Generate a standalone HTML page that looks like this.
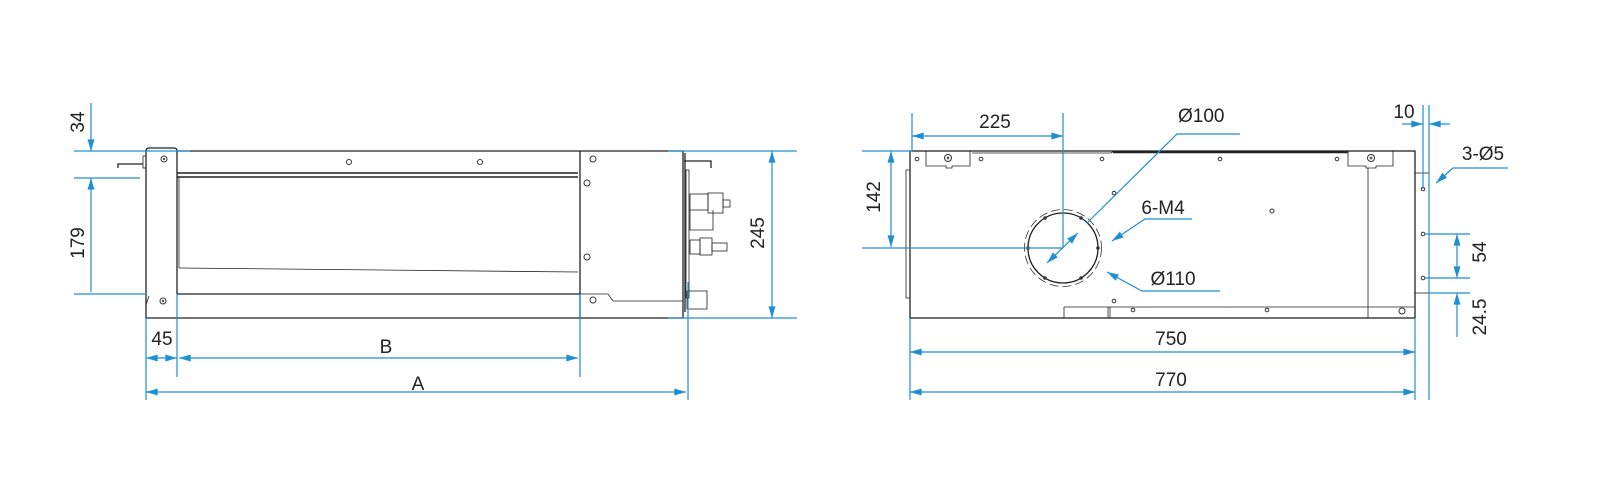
<!DOCTYPE html>
<html><head><meta charset="utf-8"><style>
html,body{margin:0;padding:0;background:#fff}
svg{display:block}
text{font-family:"Liberation Sans",sans-serif;font-size:19px;fill:#222}
.b{stroke:#1e8fd5;stroke-width:1.2;fill:none}
.k{stroke:#222;stroke-width:1.3;fill:none}
.t{stroke:#222;stroke-width:0.8;fill:none}
.ah{fill:#1e8fd5}
.s{fill:#fff;stroke:#333;stroke-width:1}
</style></head><body>
<svg width="1600" height="501" viewBox="0 0 1600 501">
<defs>
<marker id="a" viewBox="0 0 10 6" refX="10" refY="3" markerWidth="13" markerHeight="7" orient="auto-start-reverse" markerUnits="userSpaceOnUse"><path d="M0,0L10,3L0,6z" class="ah"/></marker>
</defs>

<!-- ============ LEFT VIEW ============ -->
<!-- end plate -->
<path class="k" d="M146,318V151Q146,148 149,148H174Q177,148 177,151V294"/>
<path class="k" d="M146,318H683V151H177"/>
<line class="k" x1="177" y1="294" x2="580" y2="294"/>
<path class="t" d="M146,305L149,296"/>
<!-- top band -->
<line x1="177" y1="173" x2="578" y2="173" stroke="#222" stroke-width="1.6"/>
<line x1="177" y1="177" x2="578" y2="177" stroke="#222" stroke-width="1.6"/>
<line class="t" x1="179" y1="177" x2="179" y2="268"/>
<path class="t" d="M179,268L578,272"/>
<!-- hook left -->
<path class="k" d="M118,168V164H143"/>
<rect x="143" y="156" width="3" height="12" class="t"/>
<!-- holes & screws -->
<circle cx="349" cy="162" r="2.5" class="s"/><circle cx="480" cy="162" r="2.5" class="s"/>
<circle cx="164" cy="159" r="3" class="s"/><circle cx="164" cy="159" r="1.2" fill="#555"/>
<circle cx="163" cy="301" r="3" class="s"/><circle cx="163" cy="301" r="1.2" fill="#555"/>
<!-- right panel -->
<path class="k" d="M580,151V318"/>
<path class="t" d="M580,294H608L613,301H683"/>
<circle cx="593" cy="159" r="3" class="s"/><circle cx="587" cy="183" r="3" class="s"/>
<circle cx="587" cy="257" r="3" class="s"/><circle cx="593" cy="300" r="3" class="s"/>
<!-- right fittings -->
<line class="k" x1="685" y1="153" x2="685" y2="312"/>
<path class="k" d="M684,161H711V168"/>
<rect x="686" y="170" width="3" height="128" class="t"/>
<rect x="690" y="194" width="18" height="16" class="t"/>
<rect x="708" y="193" width="15" height="20" class="t"/>
<rect x="723" y="200" width="7" height="7" class="t"/>
<path class="t" d="M690,210V230H713V210"/>
<rect x="690" y="240" width="10" height="14" class="t"/>
<rect x="700" y="238" width="12" height="17" class="t"/>
<rect x="712" y="243" width="15" height="8" class="t"/>
<rect x="687" y="291" width="20" height="18" class="t"/>

<!-- left dims -->
<line class="b" x1="74" y1="151" x2="190" y2="151"/>
<line class="b" x1="74" y1="178" x2="140" y2="178"/>
<line class="b" x1="74" y1="294" x2="146" y2="294"/>
<line class="b" x1="91" y1="103" x2="91" y2="151" marker-end="url(#a)"/>
<line class="b" x1="91" y1="178" x2="91" y2="292" marker-start="url(#a)"/>
<text transform="translate(84,122) rotate(-90)" text-anchor="middle">34</text>
<text transform="translate(84,243) rotate(-90)" text-anchor="middle">179</text>
<line class="b" x1="146" y1="318" x2="146" y2="400"/>
<line class="b" x1="177" y1="294" x2="177" y2="377"/>
<line class="b" x1="580" y1="294" x2="580" y2="377"/>
<line class="b" x1="688" y1="282" x2="688" y2="400"/>
<line class="b" x1="146" y1="358" x2="177" y2="358" marker-start="url(#a)" marker-end="url(#a)"/>
<line class="b" x1="179" y1="358" x2="578" y2="358" marker-start="url(#a)" marker-end="url(#a)"/>
<line class="b" x1="146" y1="392" x2="686" y2="392" marker-start="url(#a)" marker-end="url(#a)"/>
<text x="162" y="345" text-anchor="middle">45</text>
<text x="386" y="353" text-anchor="middle">B</text>
<text x="418" y="390" text-anchor="middle">A</text>
<line class="b" x1="668" y1="151" x2="797" y2="151"/>
<line class="b" x1="668" y1="318" x2="797" y2="318"/>
<line class="b" x1="772" y1="151" x2="772" y2="318" marker-start="url(#a)" marker-end="url(#a)"/>
<text transform="translate(764,233) rotate(-90)" text-anchor="middle">245</text>

<!-- ============ RIGHT VIEW ============ -->
<rect x="910" y="151" width="505" height="167" class="k"/>
<path class="t" d="M910,170H906V298H910"/>
<path class="t" d="M972,153H1111L1114,151"/>
<line x1="1113" y1="152" x2="1348" y2="152" stroke="#222" stroke-width="2.5"/>
<!-- brackets -->
<path class="t" d="M926,151V166H946V168H952V166H970V151"/>
<circle cx="948" cy="158" r="3.5" class="s"/><circle cx="948" cy="158" r="1.4" fill="#555"/>
<path class="t" d="M1348,151V166H1366V168H1376V166H1393V151"/>
<circle cx="1371" cy="158" r="3.5" class="s"/><circle cx="1371" cy="158" r="1.4" fill="#555"/>
<line class="t" x1="1368" y1="168" x2="1368" y2="318"/>
<line class="t" x1="1064" y1="307" x2="1415" y2="307"/>
<line class="t" x1="1064" y1="307" x2="1064" y2="318"/>
<line class="t" x1="1108" y1="307" x2="1108" y2="318"/>
<line class="t" x1="1110" y1="307" x2="1110" y2="318"/>
<circle cx="1402" cy="311" r="3" class="s"/>
<!-- holes -->
<g class="s">
<circle cx="917" cy="159" r="1.8"/><circle cx="981" cy="159" r="1.8"/><circle cx="1102" cy="159" r="1.8"/>
<circle cx="1220" cy="159" r="1.8"/><circle cx="1337" cy="159" r="1.8"/><circle cx="1114" cy="193" r="1.8"/>
<circle cx="1272" cy="211" r="2"/><circle cx="1114" cy="301" r="1.8"/><circle cx="1133" cy="310" r="1.8"/>
<circle cx="1267" cy="310" r="1.8"/>
</g>
<!-- flange right -->
<rect x="1415" y="173" width="14" height="120" class="t"/>
<circle cx="1423" cy="189" r="1.8" class="s"/><circle cx="1423" cy="234" r="1.8" class="s"/><circle cx="1423" cy="278" r="1.8" class="s"/>
<!-- circle -->
<circle cx="1063" cy="248" r="35" class="k"/>
<circle cx="1063" cy="248" r="38.5" fill="none" stroke="#333" stroke-width="0.8" stroke-dasharray="9,4"/>
<g fill="#333">
<circle cx="1028" cy="248" r="1.8"/><circle cx="1098" cy="248" r="1.8"/>
<circle cx="1045" cy="218" r="1.8"/><circle cx="1081" cy="218" r="1.8"/>
<circle cx="1045" cy="278" r="1.8"/><circle cx="1081" cy="278" r="1.8"/>
</g>
<!-- right dims -->
<line class="b" x1="912" y1="113" x2="912" y2="151"/>
<line class="b" x1="1063" y1="113" x2="1063" y2="248"/>
<line class="b" x1="912" y1="136" x2="1063" y2="136" marker-start="url(#a)" marker-end="url(#a)"/>
<text x="995" y="128" text-anchor="middle">225</text>
<line class="b" x1="862" y1="151" x2="912" y2="151"/>
<line class="b" x1="862" y1="248" x2="1063" y2="248"/>
<line class="b" x1="891" y1="151" x2="891" y2="247" marker-start="url(#a)" marker-end="url(#a)"/>
<text transform="translate(880,197) rotate(-90)" text-anchor="middle">142</text>
<line class="b" x1="1047" y1="263" x2="1078" y2="233" marker-start="url(#a)" marker-end="url(#a)"/>
<path class="b" d="M1240,134H1177L1087,223"/>
<text x="1178" y="122">Ø100</text>
<path class="b" d="M1192,219H1145L1112,241" marker-end="url(#a)"/>
<text x="1163" y="214" text-anchor="middle">6-M4</text>
<path class="b" d="M1220,291H1142L1107,272" marker-end="url(#a)"/>
<text x="1173" y="285" text-anchor="middle">Ø110</text>
<line class="b" x1="910" y1="318" x2="910" y2="400"/>
<line class="b" x1="1415" y1="318" x2="1415" y2="400"/>
<line class="b" x1="1429" y1="105" x2="1429" y2="400"/>
<line class="b" x1="1423" y1="105" x2="1423" y2="189"/>
<line class="b" x1="910" y1="352" x2="1415" y2="352" marker-start="url(#a)" marker-end="url(#a)"/>
<line class="b" x1="910" y1="392" x2="1415" y2="392" marker-start="url(#a)" marker-end="url(#a)"/>
<text x="1171" y="345" text-anchor="middle">750</text>
<text x="1171" y="386" text-anchor="middle">770</text>
<line class="b" x1="1402" y1="124" x2="1423" y2="124" marker-end="url(#a)"/>
<line class="b" x1="1450" y1="124" x2="1429" y2="124" marker-end="url(#a)"/>
<text x="1404" y="118" text-anchor="middle">10</text>
<path class="b" d="M1508,168H1453L1436,183" marker-end="url(#a)"/>
<text x="1483" y="160" text-anchor="middle">3-Ø5</text>
<line class="b" x1="1425" y1="234" x2="1470" y2="234"/>
<line class="b" x1="1425" y1="278" x2="1470" y2="278"/>
<line class="b" x1="1429" y1="293" x2="1470" y2="293"/>
<line class="b" x1="1457" y1="234" x2="1457" y2="278" marker-start="url(#a)" marker-end="url(#a)"/>
<line class="b" x1="1457" y1="337" x2="1457" y2="293" marker-end="url(#a)"/>
<text transform="translate(1486,252) rotate(-90)" text-anchor="middle">54</text>
<text transform="translate(1486,317) rotate(-90)" text-anchor="middle">24.5</text>
</svg>
</body></html>
